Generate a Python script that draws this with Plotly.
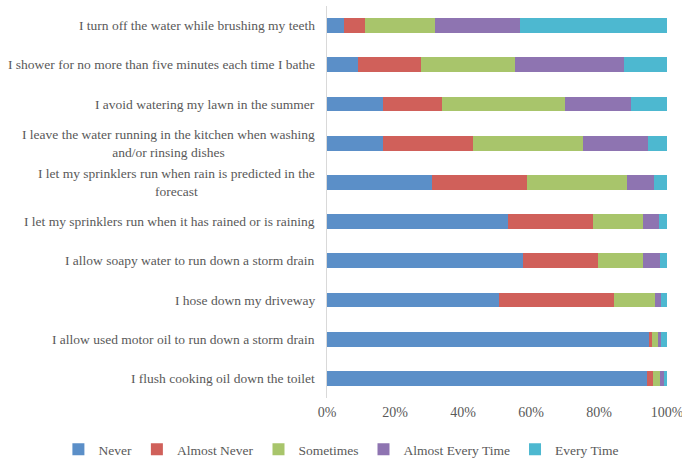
import plotly.graph_objects as go

# survey statements, top to bottom
statements = [
    "I turn off the water while brushing my teeth",
    "I shower for no more than five minutes each time I bathe",
    "I avoid watering my lawn in the summer",
    "I leave the water running in the kitchen when washing<br>and/or rinsing dishes",
    "I let my sprinklers run when rain is predicted in the<br>forecast",
    "I let my sprinklers run when it has rained or is raining",
    "I allow soapy water to run down a storm drain",
    "I hose down my driveway",
    "I allow used motor oil to run down a storm drain",
    "I flush cooking oil down the toilet",
]

# share of answers (%)
never = [5.0, 9.1, 16.5, 16.5, 30.8, 53.1, 57.5, 50.5, 94.7, 94.1]
almost_never = [6.3, 18.5, 17.3, 26.3, 28.0, 25.2, 22.2, 34.0, 0.9, 1.8]
sometimes = [20.4, 27.6, 36.1, 32.5, 29.3, 14.6, 13.2, 12.0, 1.8, 2.1]
almost_every = [25.0, 32.1, 19.6, 19.1, 8.1, 4.6, 4.9, 1.8, 0.9, 1.2]
every_time = [43.3, 12.7, 10.5, 5.6, 3.8, 2.5, 2.2, 1.7, 1.7, 0.8]

tick_vals = [0, 20, 40, 60, 80, 100]
tick_text = ["0%", "20%", "40%", "60%", "80%", "100%"]

series = [
    ("Never", never, "#5b8fc8"),
    ("Almost Never", almost_never, "#d0605a"),
    ("Sometimes", sometimes, "#a8c56b"),
    ("Almost Every Time", almost_every, "#8e74b1"),
    ("Every Time", every_time, "#4db8d0"),
]

FONT = "Liberation Serif, Times New Roman, serif"
GREY = "#595959"

fig = go.Figure()
for name, vals, color in series:
    fig.add_trace(go.Bar(
        y=statements,
        x=vals,
        name=name,
        orientation="h",
        marker=dict(color=color, line=dict(width=0)),
        width=0.38,
    ))

# statement labels as annotations so the wrapped lines are centred
for s in statements:
    fig.add_annotation(
        x=0, xref="paper", y=s, yref="y",
        text=s, showarrow=False,
        xanchor="right", align="center", xshift=-10,
        font=dict(family=FONT, size=13.5, color=GREY),
    )

fig.update_layout(
    barmode="stack",
    width=682, height=458,
    margin=dict(l=327, r=15, t=6, b=60, autoexpand=False),
    paper_bgcolor="white",
    plot_bgcolor="white",
    font=dict(family=FONT, size=13, color=GREY),
    xaxis=dict(
        range=[0, 100],
        tickvals=tick_vals, ticktext=tick_text,
        showgrid=False, zeroline=False,
        ticks="", ticklen=0,
        ticklabelstandoff=4,
        ticklabeloverflow="allow",
        tickfont=dict(size=14, color=GREY),
        automargin=False,
    ),
    yaxis=dict(
        autorange="reversed",
        showticklabels=False,
        showgrid=False, zeroline=False,
        showline=True, linecolor="#d9d9d9", linewidth=1,
        automargin=False,
    ),
    legend=dict(
        orientation="h",
        x=-0.79, xanchor="left",
        y=-0.092, yanchor="top",
        font=dict(size=13.5, color=GREY),
        itemwidth=30,
        traceorder="normal",
    ),
    showlegend=True,
)

# drop the page's default body margin so the figure sits at the window corner
fig.write_html(
    "out.html",
    config={"displayModeBar": False},
    post_script="document.body.style.margin='0';",
)
